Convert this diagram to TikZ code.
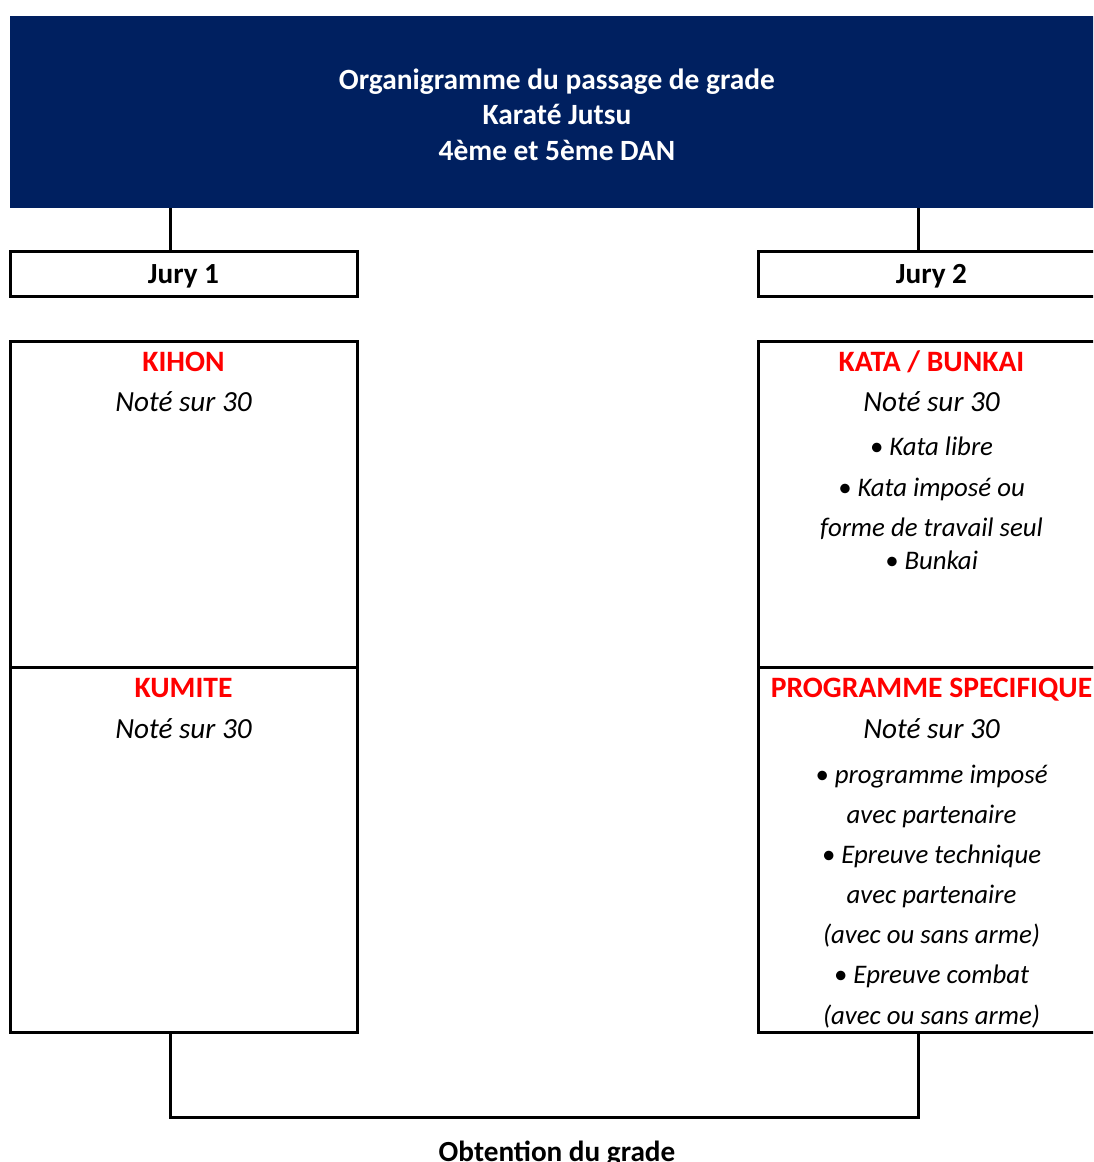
\documentclass[tikz,border=0pt]{standalone}
\usepackage{fontspec}
\setmainfont{Carlito}
\definecolor{navy}{HTML}{002060}
\tikzset{
  box/.style={draw, line width=1.5pt, minimum width=173.5pt, inner sep=0pt, outer sep=0pt},
  title/.style={anchor=base, text=white, font=\fontsize{14.7}{17}\selectfont\bfseries},
  jury/.style={anchor=base, font=\fontsize{14.6}{17}\selectfont\bfseries},
  head/.style={anchor=base, text=red, font=\fontsize{14.8}{17}\selectfont\bfseries},
  note/.style={anchor=base, font=\fontsize{14.6}{17}\selectfont\itshape},
  item/.style={anchor=base, font=\fontsize{13.4}{16}\selectfont\itshape},
  link/.style={line width=1.5pt},
}
\begin{document}
\begin{tikzpicture}[x=0.5pt,y=-0.5pt]
\clip (0,0) rectangle (1093,1162);
% header
\node[fill=navy, minimum width=547pt, minimum height=96pt, inner sep=0pt] (header) at (557,112) {};
\node[title] (ttl1) at (557,89) {Organigramme du passage de grade};
\node[title] (ttl2) at (557,124.5) {Karaté Jutsu};
\node[title] (ttl3) at (557,160) {4ème et 5ème DAN};
% jurys
\node[box, minimum height=22.5pt] (jury1) at (183.5,273.5) {};
\node[jury] (jury1txt) at (183.5,283) {Jury 1};
\node[box, minimum height=22.5pt] (jury2) at (931.5,273.5) {};
\node[jury] (jury2txt) at (931.5,283) {Jury 2};
\coordinate (j1) at (170,0);
\coordinate (j2) at (918,0);
\draw[link] (header.south -| j1) -- (jury1.north -| j1);
\draw[link] (header.south -| j2) -- (jury2.north -| j2);
% left column
\node[box, minimum height=163pt] (kihon) at (183.5,504) {};
\node[head] (kihonh) at (183.5,371) {KIHON};
\node[note] (kihonn) at (183.5,411) {Noté sur 30};
\node[box, minimum height=182.5pt] (kumite) at (183.5,849.5) {};
\node[head] (kumiteh) at (183.5,697) {KUMITE};
\node[note] (kumiten) at (183.5,738) {Noté sur 30};
% right column
\node[box, minimum height=163pt] (kata) at (931.5,504) {};
\node[head] (katah) at (931.5,371) {KATA / BUNKAI};
\node[note] (katan) at (931.5,411) {Noté sur 30};
\node[item] (kata1) at (931.5,455) {\textbullet{} Kata libre};
\node[item] (kata2) at (931.5,496) {\textbullet{} Kata imposé ou};
\node[item] (kata3) at (931.5,536) {forme de travail seul};
\node[item] (kata4) at (931.5,569) {\textbullet{} Bunkai};
\node[box, minimum height=182.5pt] (prog) at (931.5,849.5) {};
\node[head] (progh) at (931.5,697) {PROGRAMME SPECIFIQUE};
\node[note] (progn) at (931.5,738) {Noté sur 30};
\node[item] (prog1) at (931.5,783) {\textbullet{} programme imposé};
\node[item] (prog2) at (931.5,823) {avec partenaire};
\node[item] (prog3) at (931.5,863) {\textbullet{} Epreuve technique};
\node[item] (prog4) at (931.5,903) {avec partenaire};
\node[item] (prog5) at (931.5,943) {(avec ou sans arme)};
\node[item] (prog6) at (931.5,983) {\textbullet{} Epreuve combat};
\node[item] (prog7) at (931.5,1024) {(avec ou sans arme)};
% result
\coordinate (bend) at (0,1117);
\draw[link] (kumite.south -| j1) -- (bend -| j1) -- (bend -| j2) -- (prog.south -| j2);
\node[jury] (result) at (557,1161) {Obtention du grade};
\end{tikzpicture}
\end{document}
